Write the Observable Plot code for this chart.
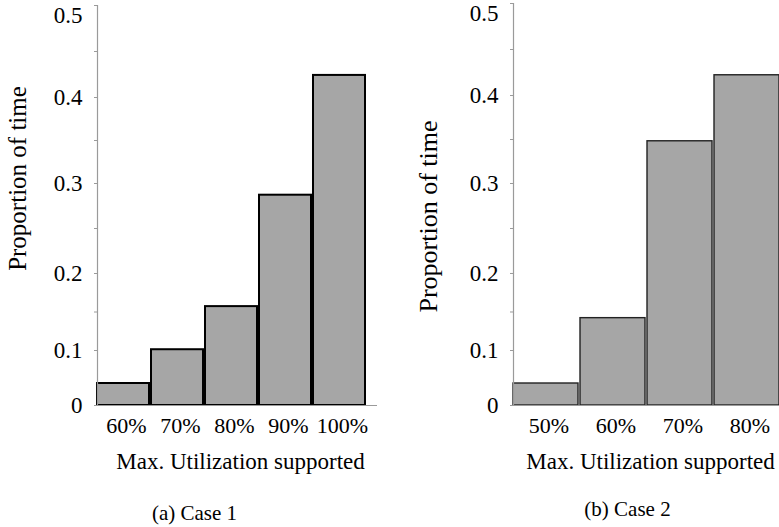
<!DOCTYPE html>
<html>
<head>
<meta charset="utf-8">
<script src="https://cdn.jsdelivr.net/npm/d3@7"></script>
<script src="https://cdn.jsdelivr.net/npm/@observablehq/plot@0.6"></script>
<style>
  html, body { margin: 0; padding: 0; background: #fff; overflow: hidden; }
  #wrap { position: relative; width: 779px; height: 527px; overflow: hidden; background: #fff; }
  .panel { position: absolute; top: 0; width: 390px; }
  .panel svg { max-width: none !important; font-family: "Liberation Serif", "Times New Roman", serif !important; }
</style>
</head>
<body>
<div id="wrap">
  <div class="panel" id="p1" style="left:0px"></div>
  <div class="panel" id="p2" style="left:400px"></div>
</div>
<script>
// ---- data ----
const case1Labels = ["60%", "70%", "80%", "90%", "100%"];
const case1Values = [0.040, 0.101, 0.157, 0.287, 0.424];
const case2Labels = ["50%", "60%", "70%", "80%"];
const case2Values = [0.040, 0.142, 0.348, 0.422];
const yTickValues = [0, 0.1, 0.2, 0.3, 0.4, 0.5];
const yMinorTicks = [0.15, 0.25, 0.35, 0.45];
const xTitle = "Max. Utilization supported";
const yTitle = "Proportion of time";
const captions = ["(a) Case 1", "(b) Case 2"];

// ---- layout ----
// The original's value axis is unevenly spaced; these fractions of the axis
// height say where each labelled value sits (piecewise-linear value axis).
const axisStopsCase1 = [0, 0.1375, 0.33, 0.555, 0.77, 1];
const axisStopsCase2 = [0, 0.1368, 0.3284, 0.5522, 0.7711, 1];

const serif = "Liberation Serif, Times New Roman, serif";
const axisGray = "#9a9a9a";
const barFill = "#a6a6a6";

function panel(o) {
  const warp = d3.scaleLinear().domain(yTickValues).range(o.stops);
  const data = o.labels.map((l, i) => ({label: l, value: o.values[i]}));
  const fmt = d => d === 0 ? "0" : d.toFixed(1);
  const lowTicks = yTickValues.filter(d => d < 0.5);
  const topTicks = yTickValues.filter(d => d === 0.5);
  const t = {fontFamily: serif, fill: "#000"};
  return Plot.plot({
    width: o.width, height: 527,
    marginTop: o.marginTop, marginBottom: 122, marginLeft: o.marginLeft, marginRight: o.marginRight,
    style: {fontFamily: serif, fontSize: "23px", color: "#000", background: "#fff", overflow: "visible", maxWidth: "none"},
    x: {domain: o.labels, paddingInner: o.padIn, paddingOuter: o.padOut, align: 0, axis: null, label: null},
    y: {domain: [0, 1], axis: null, label: null},
    marks: [
      Plot.barY(data, {x: "label", y: d => warp(d.value), fill: barFill, stroke: o.barStroke, strokeWidth: o.barStrokeWidth}),
      Plot.ruleY([0], {stroke: axisGray, strokeWidth: 1.2}),
      Plot.frame({anchor: "left", stroke: axisGray, strokeWidth: 1.2}),
      Plot.axisY(yTickValues.map(d => warp(d)), {tickSize: 3, stroke: axisGray, tickFormat: () => "", label: null}),
      Plot.axisY(yMinorTicks.map(d => warp(d)), {tickSize: 3, stroke: axisGray, tickFormat: () => "", label: null}),
      Plot.text(lowTicks, {...t, y: d => warp(d), text: fmt, frameAnchor: "left", textAnchor: "end", dx: -15, fontSize: 23}),
      Plot.text(topTicks, {...t, y: d => warp(d), text: fmt, frameAnchor: "left", textAnchor: "end", dx: -15, dy: 10, fontSize: 23}),
      Plot.axisX(o.labels, {...t, tickSize: 0, tickPadding: 12, fontSize: 22, dx: o.xdx, label: null}),
      Plot.text([xTitle], {...t, frameAnchor: "bottom", lineAnchor: "middle", textAnchor: "middle", dy: 56, dx: o.titleDx, fontSize: 23}),
      Plot.text([yTitle], {...t, frameAnchor: "left", textAnchor: "middle", lineAnchor: "middle", rotate: -90, dx: o.yTitleDx, dy: o.yTitleDy, fontSize: o.yTitleSize}),
      Plot.text([o.caption], {...t, frameAnchor: "bottom", lineAnchor: "middle", textAnchor: "middle", dy: o.capDy, dx: o.capDx, fontSize: 21})
    ]
  });
}

document.getElementById("p1").append(panel({
  labels: case1Labels, values: case1Values, stops: axisStopsCase1,
  width: 390, marginTop: 5, marginLeft: 97, marginRight: 13, padIn: 0.04, padOut: 0.09,
  barStroke: "#000", barStrokeWidth: 2, xdx: 3,
  titleDx: 3, caption: captions[0], capDx: -43, capDy: 108,
  yTitleDx: -80, yTitleDy: -27, yTitleSize: 25
}));

document.getElementById("p2").append(panel({
  labels: case2Labels, values: case2Values, stops: axisStopsCase2,
  width: 390, marginTop: 3, marginLeft: 113, marginRight: 9, padIn: 0.03, padOut: 0,
  barStroke: "#222", barStrokeWidth: 1.4, xdx: 3,
  titleDx: 3, caption: captions[1], capDx: -20, capDy: 104,
  yTitleDx: -85, yTitleDy: 12, yTitleSize: 26
}));
</script>
</body>
</html>
